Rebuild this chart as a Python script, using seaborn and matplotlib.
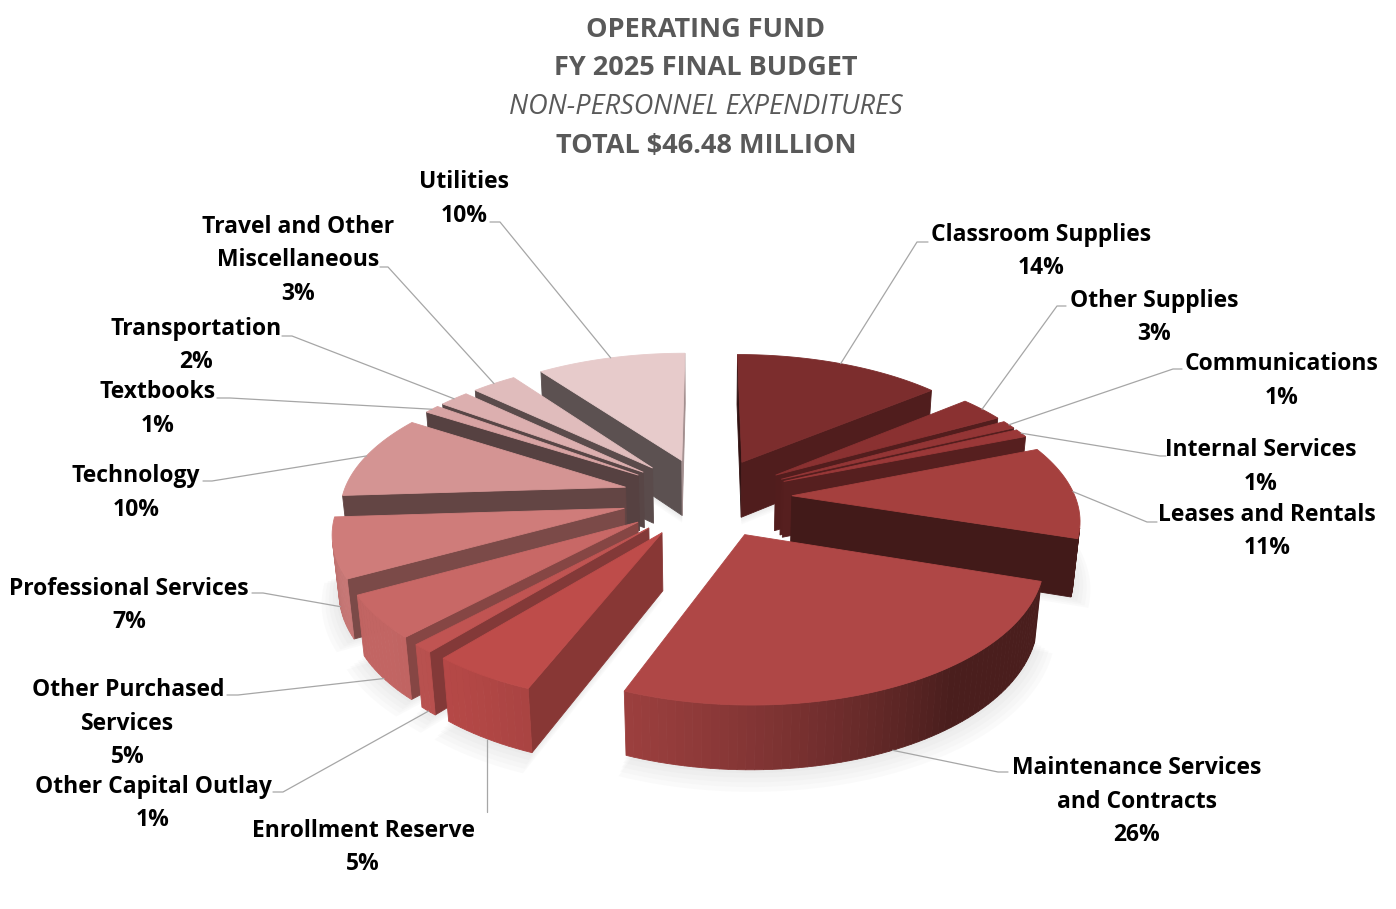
import numpy as np
import matplotlib
import matplotlib.pyplot as plt
import seaborn as sns

# Slice data, clockwise from 12 o'clock
categories = ["Classroom Supplies", "Other Supplies", "Communications", "Internal Services",
              "Leases and Rentals", "Maintenance Services\nand Contracts", "Enrollment Reserve",
              "Other Capital Outlay", "Other Purchased\nServices", "Professional Services",
              "Technology", "Textbooks", "Transportation", "Travel and Other\nMiscellaneous",
              "Utilities"]
shares = [14, 3, 1, 1, 11, 26, 5, 1, 5, 7, 10, 1, 2, 3, 10]
pct_labels = [f"{v}%" for v in shares]

title_lines = ["OPERATING FUND", "FY 2025 FINAL BUDGET",
               "NON-PERSONNEL EXPENDITURES", "TOTAL $46.48 MILLION"]

# top face colours per slice
slice_colors = sns.color_palette(["#7C2D2D", "#8A3131", "#933535", "#9A3838", "#A5403E",
                                  "#AF4746", "#BE4C4A", "#C05452", "#C86866", "#CF7C7A",
                                  "#D49493", "#D8A3A3", "#DCAFAF", "#E0BCBC", "#E7CBCB"])

# label layout: first-line baseline, leader knee and stub end (pixels)
label_pos = [(1041, 241), (1154, 307), (1282, 370), (1261, 456), (1267, 521),
             (1137, 774), (363, 837), (153, 793), (128, 696), (129, 595),
             (136, 482), (158, 398), (196, 335), (298, 233), (464, 188)]
knees = [(917, 242), (1057, 306), (1173, 369), (1160, 456), (1147, 522),
         (998, 772), (None, 812), (283, 792), (238, 695), (263, 593),
         (212, 481), (230, 398), (292, 336), (388, 267), (500, 222)]
stub_ends = [(928, 242), (1066, 306), (1182, 369), (1166, 456), (1157, 522),
             (1008, 772), (None, 812), (273, 792), (227, 695), (252, 593),
             (203, 481), (217, 398), (282, 336), (380, 267), (490, 222)]

sns.set_theme(style="white")
plt.rcParams['font.family'] = ['Open Sans', 'DejaVu Sans']

# camera / pie geometry
CAM_D, ELEV, FOCAL = 6.0, np.radians(28), 1700
CX, CY = 707, 497
EXPLODE, THICK = 0.3, 0.23
se, ce = np.sin(ELEV), np.cos(ELEV)
cam = np.array([0.0, -CAM_D * ce, CAM_D * se])


def project(pts):
    pts = np.atleast_2d(pts)
    X, Y, Z = pts[:, 0], pts[:, 1], pts[:, 2]
    zc = CAM_D + Y * ce - Z * se
    yc = Y * se + Z * ce
    return CX + FOCAL * X / zc, CY - FOCAL * yc / zc


def shade(col, f):
    return tuple(np.clip(np.array(matplotlib.colors.to_rgb(col)) * f, 0, 1))


def unit(v):
    v = np.array(v, float)
    return v / np.linalg.norm(v)


L_side = unit([-0.8, -0.6, 0])
L_cut = unit([1.0, -0.3, 0])

fig = plt.figure(figsize=(13.96, 9.09), dpi=100)
ax = fig.add_axes([0, 0, 1, 1])
ax.set_xlim(0, 1396)
ax.set_ylim(909, 0)
ax.axis('off')

bounds = np.concatenate([[0], np.cumsum(shares)]) / sum(shares) * 360
slices = []
for i in range(len(shares)):
    a0, a1 = bounds[i], bounds[i + 1]
    am = np.radians((a0 + a1) / 2)
    off = EXPLODE * np.array([np.sin(am), np.cos(am), 0])
    ang = np.radians(np.linspace(a0, a1, max(4, int((a1 - a0) / 1.5) + 2)))
    arc = np.stack([np.sin(ang), np.cos(ang), np.zeros_like(ang)], axis=1) + off
    key = np.linalg.norm(off + 0.55 * np.array([np.sin(am), np.cos(am), 0]) - cam)
    slices.append(dict(i=i, a0=np.radians(a0), a1=np.radians(a1), am=am, off=off, arc=arc, key=key))

down = np.array([0, 0, -THICK])

# soft shadow under the pie
for s in slices:
    for k in range(5):
        sc = 1.0 + 0.01 * (k + 1)
        pts = np.vstack([s['off'], s['off'] + (s['arc'] - s['off']) * sc]) + down * 1.02 \
            + np.array([0, -0.012 * k, 0])
        u, v = project(pts)
        ax.fill(u, v, color='#8C8C8C', alpha=0.035, lw=0, zorder=1)

z = 2
for s in sorted(slices, key=lambda d: -d['key']):
    base = slice_colors[s['i']]
    off, arc = s['off'], s['arc']
    faces = []
    # radial cut faces
    for a, sign in ((s['a0'], -1), (s['a1'], 1)):
        n = sign * np.array([np.cos(a), -np.sin(a), 0])
        p_out = off + np.array([np.sin(a), np.cos(a), 0])
        quad = np.array([off, p_out, p_out + down, off + down])
        if np.dot(n, cam - quad.mean(axis=0)) > 0:
            f = 0.40 + 0.32 * max(0, np.dot(n, L_cut)) ** 1.5
            faces.append((quad, shade(base, f)))
    # outer curved side
    for k in range(len(arc) - 1):
        quad = np.array([arc[k], arc[k + 1], arc[k + 1] + down, arc[k] + down])
        mid = (arc[k] + arc[k + 1]) / 2 - off
        n = unit([mid[0], mid[1], 0])
        if np.dot(n, cam - quad.mean(axis=0)) > 0:
            f = 0.42 + 0.55 * max(0, np.dot(n, L_side))
            faces.append((quad, shade(base, f)))
    for quad, col in faces:
        u, v = project(quad)
        ax.fill(u, v, color=col, lw=0.6, ec=col, zorder=z)
    u, v = project(np.vstack([off, arc]))
    ax.fill(u, v, color=base, lw=0.6, ec=base, zorder=z + 0.5)
    z += 1

# leader lines and labels
for s in slices:
    i = s['i']
    am = s['am']
    zz = -THICK if np.cos(am) < 0 else 0.0
    anchor = s['off'] + np.array([np.sin(am), np.cos(am), zz])
    au, av = project(anchor)
    kx, ky = knees[i]
    sx, sy = stub_ends[i]
    kx = au[0] if kx is None else kx
    sx = au[0] if sx is None else sx
    ax.plot([au[0], kx, sx], [av[0], ky, sy], color='#A6A6A6', lw=0.9, zorder=50)
    lx, ly = label_pos[i]
    lines = categories[i].split("\n") + [pct_labels[i]]
    for j, line in enumerate(lines):
        ax.text(lx, ly + 33.5 * j, line, ha='center', va='baseline', fontsize=16.5,
                fontweight='bold', color='black', zorder=60)

# title
title_base = [37, 75, 114, 153]
for j, line in enumerate(title_lines):
    ax.text(706, title_base[j], line, ha='center', va='baseline', fontsize=19.5,
            fontweight='normal' if j == 2 else 'bold',
            fontstyle='italic' if j == 2 else 'normal', color='#595959', zorder=60)

fig.savefig('out.png', dpi=100, facecolor='white')
